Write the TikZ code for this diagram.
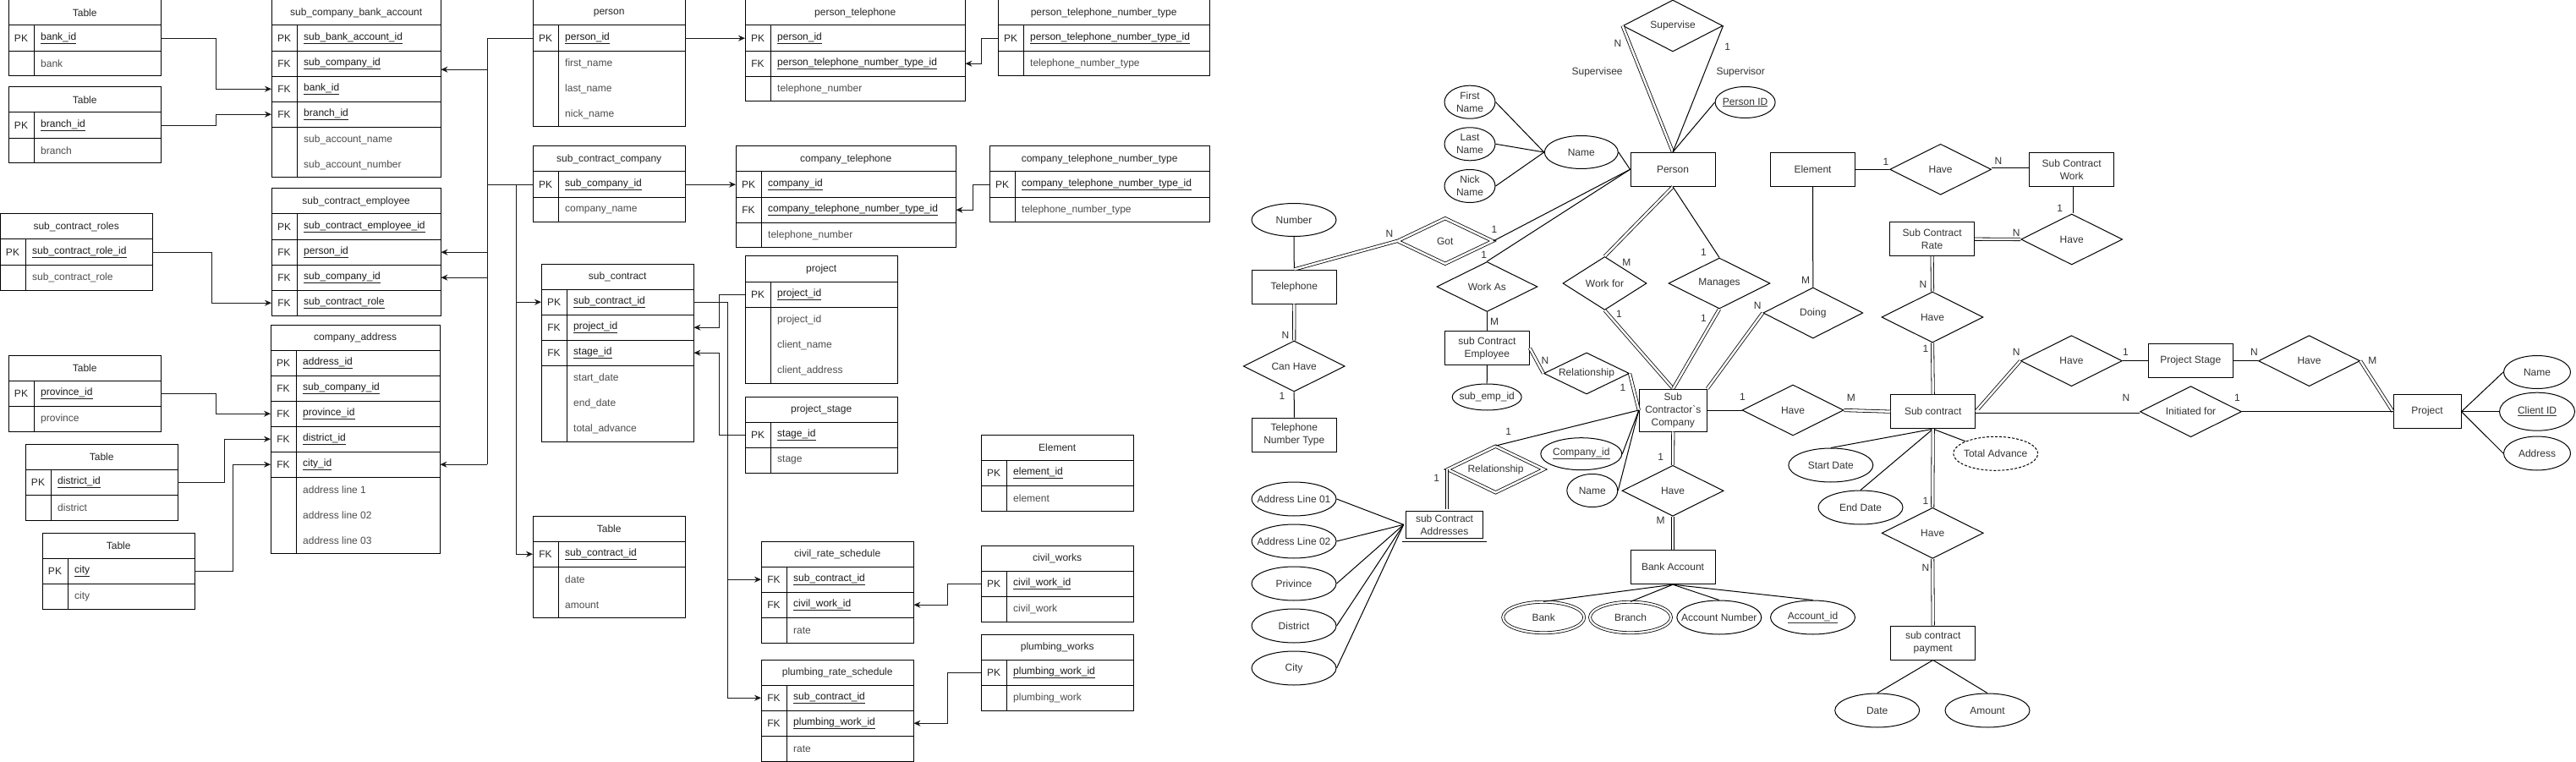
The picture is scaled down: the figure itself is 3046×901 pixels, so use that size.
\documentclass[tikz,border=0pt]{standalone}
\usepackage{fontspec}
\setmainfont{Liberation Sans}
\usetikzlibrary{arrows.meta,shapes.geometric,calc}
\tikzset{
  tbl/.style={draw=black, line width=1pt},
  thead/.style={inner sep=0pt, minimum height=30pt, anchor=north west, text=black!85},
  trow/.style={inner sep=0pt, minimum height=30pt, anchor=north west},
  keyt/.style={inner sep=0pt, text=black!85},
  fldk/.style={inner sep=0pt, anchor=west, text=black!90},
  flda/.style={inner sep=0pt, anchor=west, text=black!70},
  fk/.style={draw=black!90, line width=1pt, -{Stealth[length=8pt,width=7pt]}},
  fkl/.style={draw=black!90, line width=1pt},
  ent/.style={draw, rectangle, line width=1pt, minimum width=100pt, minimum height=40pt, inner sep=0pt, align=center, text=black!80},
  rel/.style={draw, diamond, aspect=2, line width=1pt, inner sep=0pt, minimum width=120pt, minimum height=60pt, text=black!80},
  att/.style={draw, ellipse, line width=1pt, inner sep=0pt, minimum width=100pt, minimum height=40pt},
  every label/.style={inner sep=0pt, text=black!80},
  erl/.style={line width=1pt},
  erd/.style={double, double distance=2.5pt, line width=0.8pt},
  card/.style={inner sep=0pt, text=black!80},
}
% #1 name, #2 x, #3 y, #4 width, #5 rows, #6 title, #7 rows key/field/isKey
\newcommand{\dbtable}[7]{%
  \node[thead, minimum width=#4pt] (#1-0) at (#2,#3) {#6};
  \foreach[count=\i] \ky/\fl/\ul in {#7}{%
    \node[trow, minimum width=#4pt] (#1-\i) at (#2,#3+30*\i) {};
    \node[keyt] at ([xshift=15pt]#1-\i.west) {\ky};
    \ifnum\ul=1
      \node[fldk] at ([xshift=38pt]#1-\i.west) {\underline{\fl}};
      \draw[tbl] (#1-\i.south west) -- (#1-\i.south east);
    \else
      \node[flda] at ([xshift=38pt]#1-\i.west) {\fl};
    \fi
  }
  \draw[tbl] (#2,#3) rectangle (#2+#4,#3+30*#5+30);
  \draw[tbl] (#2,#3+30) -- (#2+#4,#3+30);
  \draw[tbl] (#2+30,#3+30) -- (#2+30,#3+30*#5+30);
}
\begin{document}
\begin{tikzpicture}[x=1pt,y=-1pt,font=\fontsize{12}{15}\selectfont]
\fill[white] (0,0) rectangle (3046,901);
\useasboundingbox (0,0) rectangle (3046,901);

% ---------------- relational tables ----------------
\dbtable{tbank}{10}{0}{180}{2}{Table}{PK/bank\_id/1,/bank/0}
\dbtable{tbranch}{10}{103}{180}{2}{Table}{PK/branch\_id/1,/branch/0}
\dbtable{tscba}{321}{0}{200}{6}{sub\_company\_bank\_account}{PK/sub\_bank\_account\_id/1,FK/sub\_company\_id/1,FK/bank\_id/1,FK/branch\_id/1,/sub\_account\_name/0,/sub\_account\_number/0}
\dbtable{troles}{0}{253}{180}{2}{sub\_contract\_roles}{PK/sub\_contract\_role\_id/1,/sub\_contract\_role/0}
\dbtable{tsce}{321}{223}{200}{4}{sub\_contract\_employee}{PK/sub\_contract\_employee\_id/1,FK/person\_id/1,FK/sub\_company\_id/1,FK/sub\_contract\_role/1}
\dbtable{tcaddr}{320}{384}{200}{8}{company\_address}{PK/address\_id/1,FK/sub\_company\_id/1,FK/province\_id/1,FK/district\_id/1,FK/city\_id/1,/address line 1/0,/address line 02/0,/address line 03/0}
\dbtable{tprov}{10}{420}{180}{2}{Table}{PK/province\_id/1,/province/0}
\dbtable{tdist}{30}{525}{180}{2}{Table}{PK/district\_id/1,/district/0}
\dbtable{tcity}{50}{630}{180}{2}{Table}{PK/city/1,/city/0}
\dbtable{tperson}{630}{0}{180}{4}{person}{PK/person\_id/1,/first\_name/0,/last\_name/0,/nick\_name/0}
\dbtable{tscc}{630}{173}{180}{2}{sub\_contract\_company}{PK/sub\_company\_id/1,/company\_name/0}
\dbtable{tsc}{640}{312}{180}{6}{sub\_contract}{PK/sub\_contract\_id/1,FK/project\_id/1,FK/stage\_id/1,/start\_date/0,/end\_date/0,/total\_advance/0}
\dbtable{tpay}{630}{610}{180}{3}{Table}{FK/sub\_contract\_id/1,/date/0,/amount/0}
\dbtable{tptel}{881}{0}{260}{3}{person\_telephone}{PK/person\_id/1,FK/person\_telephone\_number\_type\_id/1,/telephone\_number/0}
\dbtable{tctel}{870}{173}{260}{3}{company\_telephone}{PK/company\_id/1,FK/company\_telephone\_number\_type\_id/1,/telephone\_number/0}
\dbtable{tproj}{881}{303}{180}{4}{project}{PK/project\_id/1,/project\_id/0,/client\_name/0,/client\_address/0}
\dbtable{tpstage}{881}{469}{180}{2}{project\_stage}{PK/stage\_id/1,/stage/0}
\dbtable{tcrs}{900}{640}{180}{3}{civil\_rate\_schedule}{FK/sub\_contract\_id/1,FK/civil\_work\_id/1,/rate/0}
\dbtable{tprs}{900}{780}{180}{3}{plumbing\_rate\_schedule}{FK/sub\_contract\_id/1,FK/plumbing\_work\_id/1,/rate/0}
\dbtable{tpttype}{1180}{0}{250}{2}{person\_telephone\_number\_type}{PK/person\_telephone\_number\_type\_id/1,/telephone\_number\_type/0}
\dbtable{tcttype}{1170}{173}{260}{2}{company\_telephone\_number\_type}{PK/company\_telephone\_number\_type\_id/1,/telephone\_number\_type/0}
\dbtable{telem}{1160}{514}{180}{2}{Element}{PK/element\_id/1,/element/0}
\dbtable{tcworks}{1160}{645}{180}{2}{civil\_works}{PK/civil\_work\_id/1,/civil\_work/0}
\dbtable{tpworks}{1160}{750}{180}{2}{plumbing\_works}{PK/plumbing\_work\_id/1,/plumbing\_work/0}

% ---------------- relational connectors ----------------
\draw[fk] (tbank-1.east) -- ++(65,0) |- (tscba-3.west);
\draw[fk] (tbranch-1.east) -- ++(65,0) |- (tscba-4.west);
\draw[fk] (troles-1.east) -- ++(70,0) |- (tsce-4.west);
\draw[fk] (tprov-1.east) -- ++(65,0) |- (tcaddr-3.west);
\draw[fk] (tdist-1.east) -- ++(55,0) |- (tcaddr-4.west);
\draw[fk] (tcity-1.east) -- ++(45,0) |- (tcaddr-5.west);

\coordinate (busA) at (576,0);
\coordinate (busB) at (610,0);
\coordinate (busC) at (860,0);
\coordinate (scbaIn) at ([yshift=-7pt]tscba-2.east);
\draw[fkl] (tperson-1.west) -- (tperson-1.west -| busA) -- (tcaddr-5.east -| busA);
\draw[fkl] (tscc-1.west) -- (tscc-1.west -| busA);
\draw[fk] (scbaIn -| busA) -- (scbaIn);
\draw[fk] (tsce-2.east -| busA) -- (tsce-2.east);
\draw[fk] (tsce-3.east -| busA) -- (tsce-3.east);
\draw[fk] (tcaddr-5.east -| busA) -- (tcaddr-5.east);
\draw[fkl] (tscc-1.west -| busB) -- (tpay-1.west -| busB);
\draw[fk] (tsc-1.west -| busB) -- (tsc-1.west);
\draw[fk] (tpay-1.west -| busB) -- (tpay-1.west);

\draw[fk] (tperson-1.east) -- (tptel-1.west);
\draw[fk] (tscc-1.east) -- (tctel-1.west);
\draw[fk] (tpttype-1.west) -- ++(-20,0) |- (tptel-2.east);
\draw[fk] (tcttype-1.west) -- ++(-20,0) |- (tctel-2.east);
\draw[fk] (tproj-1.west) -- ++(-31,0) |- (tsc-2.east);
\draw[fk] (tpstage-1.west) -- ++(-31,0) |- (tsc-3.east);
\draw[fkl] (tsc-1.east) -- (tsc-1.east -| busC) -- (tprs-1.west -| busC);
\draw[fk] (tcrs-1.west -| busC) -- (tcrs-1.west);
\draw[fk] (tprs-1.west -| busC) -- (tprs-1.west);
\draw[fk] (tcworks-1.west) -- ++(-40,0) |- (tcrs-2.east);
\draw[fk] (tpworks-1.west) -- ++(-40,0) |- (tprs-2.east);

% ---------------- ER diagram: entities ----------------
\node[ent] (ePerson) at (1978,200.3) {Person};
\node[ent] (eElement) at (2143.5,200.3) {Element};
\node[ent] (eSCWork) at (2449.7,200.3) {Sub Contract\\Work};
\node[ent] (eSCRate) at (2284.6,282.7) {Sub Contract\\Rate};
\node[ent] (eTel) at (1530.3,339) {Telephone};
\node[ent] (eTNT) at (1530.3,514) {Telephone\\Number Type};
\node[ent] (eEmp) at (1758.4,411.7) {sub Contract\\Employee};
\node[ent, minimum width=80pt, minimum height=50pt] (eSubCo) at (1978.3,485) {Sub\\Contractor\textasciigrave s\\Company};
\node[ent] (eSubC) at (2285.7,486.7) {Sub contract};
\node[ent] (ePStage) at (2590.3,426.7) {Project Stage};
\node[ent, minimum width=80pt] (eProject) at (2870,486.7) {Project};
\node[ent, double, double distance=3.5pt, line width=0.8pt, minimum width=95.8pt, minimum height=36.2pt] (eAddr) at (1708,620.3) {sub Contract\\Addresses};
\node[ent] (eBank) at (1978,670.7) {Bank Account};
\node[ent] (ePay) at (2285.7,760) {sub contract\\payment};

% ---------------- ER diagram: relationships ----------------
\node[rel, minimum width=118pt, minimum height=61pt] (eSupervise) at (1978,30.5) {Supervise};
\node[rel, double, double distance=2.5pt, line width=0.8pt, minimum width=113pt, minimum height=54pt] (eGot) at (1708.8,285) {Got};
\node[rel, minimum width=119pt, minimum height=59pt] (eWorkAs) at (1758.4,339) {Work As};
\node[rel] (eCanHave) at (1530.2,433) {Can Have};
\node[rel, minimum width=99pt, minimum height=63pt] (eWorkFor) at (1897.5,335) {Work for};
\node[rel] (eManages) at (2033,335) {Manages};
\node[rel, minimum width=118pt] (eDoing) at (2143.8,370) {Doing};
\node[rel] (eHave1) at (2294.6,200.3) {Have};
\node[rel] (eHave2) at (2449.7,283) {Have};
\node[rel] (eHave3) at (2285,375) {Have};
\node[rel] (eHave4) at (2449.4,426.7) {Have};
\node[rel] (eHave5) at (2730.5,426.7) {Have};
\node[rel] (eInit) at (2590.5,486.7) {Initiated for};
\node[rel] (eHaveSC) at (2120,485) {Have};
\node[rel, minimum width=101pt, minimum height=49pt] (eRel1) at (1876,441.5) {Relationship};
\node[rel, double, double distance=2.5pt, line width=0.8pt, minimum width=114pt, minimum height=55pt] (eRel2) at (1768.5,555) {Relationship};
\node[rel] (eHaveBank) at (1978,580.3) {Have};
\node[rel] (eHavePay) at (2285.2,630.3) {Have};

% ---------------- ER diagram: attributes ----------------
\node[att, minimum width=71pt, minimum height=37pt, label=center:{\underline{Person ID}}] (ePersonID) at (2063.6,121) {};
\node[att, minimum width=87pt, minimum height=39pt, label=center:Name] (eName) at (1869.8,180) {};
\node[att, minimum width=60pt, minimum height=39pt, label={[align=center]center:First\\Name}] (eFirst) at (1738,120.7) {};
\node[att, minimum width=60pt, minimum height=39pt, label={[align=center]center:Last\\Name}] (eLast) at (1738,170.3) {};
\node[att, minimum width=60pt, minimum height=39pt, label={[align=center]center:Nick\\Name}] (eNick) at (1738,220) {};
\node[att, minimum height=39pt, label=center:Number] (eNumber) at (1530,260) {};
\node[att, minimum width=82pt, minimum height=31pt, label=center:sub\_emp\_id] (eSubEmpId) at (1758.2,469.5) {};
\node[att, minimum width=96pt, minimum height=38pt, label=center:{\underline{Company\_id}}] (eCompanyId) at (1869.8,536.7) {};
\node[att, minimum width=60pt, minimum height=39pt, label=center:Name] (eSName) at (1882.8,580) {};
\node[att, label=center:Address Line 01] (eAL1) at (1530,590) {};
\node[att, label=center:Address Line 02] (eAL2) at (1530,640) {};
\node[att, label=center:Privince] (eProv) at (1530,690) {};
\node[att, label=center:District] (eDist) at (1530,740) {};
\node[att, label=center:City] (eCity) at (1530,790) {};
\node[att, double, double distance=2.2pt, line width=0.8pt, minimum width=96pt, minimum height=36.5pt, label=center:Bank] (eBankAtt) at (1825.2,730) {};
\node[att, double, double distance=2.2pt, line width=0.8pt, minimum width=96pt, minimum height=36.5pt, label=center:Branch] (eBranch) at (1928,730) {};
\node[att, label=center:Account Number] (eAccNum) at (2032.8,730) {};
\node[att, label=center:{\underline{Account\_id}}] (eAccId) at (2143.5,730) {};
\node[att, label=center:Start Date] (eStart) at (2164.8,550) {};
\node[att, label=center:End Date] (eEnd) at (2200,600) {};
\node[att, dash pattern=on 3pt off 2pt, label=center:Total Advance] (eTotAdv) at (2359.7,536.3) {};
\node[att, label=center:Date] (eDate) at (2219.7,840) {};
\node[att, label=center:Amount] (eAmount) at (2350,840) {};
\node[att, minimum width=79pt, minimum height=39pt, label=center:Name] (ePName) at (3000,440) {};
\node[att, minimum width=89pt, minimum height=45pt, label=center:{\underline{Client ID}}] (eClientId) at (3000,486.7) {};
\node[att, minimum width=79pt, label=center:Address] (ePAddr) at (3000,536) {};

% ---------------- ER diagram: connectors ----------------
\draw[erd] (eSupervise.west) -- (ePerson.north);
\draw[erl] (eSupervise.east) -- (ePerson.north);
\draw[erl] (ePersonID.west) -- (ePerson.north);
\draw[erl] (eName.east) -- (ePerson.west);
\draw[erl] (eFirst.east) -- (eName.west);
\draw[erl] (eLast.east) -- (eName.west);
\draw[erl] (eNick.east) -- (eName.west);
\draw[erl] (eNumber.south) -- (eTel.north);
\draw[erd] (eTel.north) -- (eGot.west);
\draw[erl] (eGot.east) -- (ePerson.west);
\draw[erl] (eWorkAs.north) -- (ePerson.west);
\draw[erl] (eWorkAs.south) -- (eEmp.north);
\draw[erl] (eEmp.south) -- (eSubEmpId.north);
\draw[erd] (eTel.south) -- (eCanHave.north);
\draw[erl] (eCanHave.south) -- (eTNT.north);
\draw[erd] (ePerson.south) -- (eWorkFor.north);
\draw[erd] (eWorkFor.south) -- (eSubCo.north);
\draw[erl] (ePerson.south) -- (eManages.north);
\draw[erd] (eManages.south) -- (eSubCo.north);
\draw[erl] (eElement.south) -- (eDoing.north);
\draw[erd] (eDoing.west) -- (eSubCo.north east);
\draw[erd] (eEmp.east) -- (eRel1.west);
\draw[erd] (eRel1.east) -- (eSubCo.west);
\draw[erl] (eSubCo.west) -- (eRel2.north);
\draw[erd] (eRel2.west) -- (eRel2.west |- eAddr.north);
\draw[erl] (eCompanyId.east) -- (eSubCo.west);
\draw[erl] (eSName.east) -- (eSubCo.west);
\foreach \a in {eAL1,eAL2,eProv,eDist,eCity} \draw[erl] (\a.east) -- (eAddr.west);
\draw[erd] (eSubCo.south) -- (eHaveBank.north);
\draw[erd] (eHaveBank.south) -- (eBank.north);
\foreach \a in {eBankAtt,eBranch,eAccNum,eAccId} \draw[erl] (eBank.south) -- (\a.north);
\draw[erl] (eSubCo.east) -- (eHaveSC.west);
\draw[erd] (eHaveSC.east) -- (eSubC.west);
\draw[erl] (eElement.east) -- (eHave1.west);
\draw[erd] (eHave1.east) -- (eSCWork.west);
\draw[erd] (eSCWork.south) -- (eHave2.north);
\draw[erd] (eHave2.west) -- (eSCRate.east);
\draw[erd] (eSCRate.south) -- (eHave3.north);
\draw[erd] (eHave3.south) -- (eSubC.north);
\draw[erd] (eHave4.west) -- (eSubC.east);
\draw[erl] (eHave4.east) -- (ePStage.west);
\draw[erl] (ePStage.east) -- (eHave5.west);
\draw[erd] (eHave5.east) -- (eProject.west);
\draw[erd] (eSubC.east) -- (eInit.west);
\draw[erl] (eInit.east) -- (eProject.west);
\foreach \a in {ePName,eClientId,ePAddr} \draw[erl] (eProject.east) -- (\a.west);
\draw[erl] (eSubC.south) -- (eStart.north);
\draw[erl] (eSubC.south) -- (eEnd.north);
\draw[erl] (eSubC.south) -- (eTotAdv.north west);
\draw[erd] (eSubC.south) -- (eHavePay.north);
\draw[erd] (eHavePay.south) -- (ePay.north);
\draw[erl] (ePay.south) -- (eDate.north);
\draw[erl] (ePay.south) -- (eAmount.north);

% ---------------- ER diagram: cardinalities and roles ----------------
\node[card] (c01) at (1913,51.7) {N};
\node[card] (c02) at (2042.6,55) {1};
\node[card] (c03) at (1888.6,85) {Supervisee};
\node[card] (c04) at (2058.2,85) {Supervisor};
\node[card] (c05) at (1643,276.7) {N};
\node[card] (c06) at (1767,271.7) {1};
\node[card] (c07) at (1754.6,301) {1};
\node[card] (c08) at (1767,380) {M};
\node[card] (c09) at (1520,396.7) {N};
\node[card] (c10) at (1516,468.3) {1};
\node[card] (c11) at (1923.4,310) {M};
\node[card] (c12) at (1914.5,371.7) {1};
\node[card] (c13) at (2014.5,298.3) {1};
\node[card] (c14) at (2014.5,376.7) {1};
\node[card] (c15) at (2135,331.7) {M};
\node[card] (c16) at (2078.3,361.7) {N};
\node[card] (c17) at (1827,426.7) {N};
\node[card] (c18) at (1919,458.3) {1};
\node[card] (c19) at (1783.7,510) {1};
\node[card] (c20) at (1698.8,565) {1};
\node[card] (c21) at (1963.6,540) {1};
\node[card] (c22) at (1963.6,615) {M};
\node[card] (c23) at (2060.4,469.3) {1};
\node[card] (c24) at (2188.9,470) {M};
\node[card] (c25) at (2230,191.7) {1};
\node[card] (c26) at (2363,190.7) {N};
\node[card] (c27) at (2435.7,246) {1};
\node[card] (c28) at (2384.3,275) {N};
\node[card] (c29) at (2274,336.7) {N};
\node[card] (c30) at (2276.9,412.3) {1};
\node[card] (c31) at (2384.3,416.7) {N};
\node[card] (c32) at (2513.4,416) {1};
\node[card] (c33) at (2665.4,416) {N};
\node[card] (c34) at (2805.4,426) {M};
\node[card] (c35) at (2514,470) {N};
\node[card] (c36) at (2645.4,470.7) {1};
\node[card] (c37) at (2276.9,592.3) {1};
\node[card] (c38) at (2276.9,671.7) {N};
\end{tikzpicture}
\end{document}
